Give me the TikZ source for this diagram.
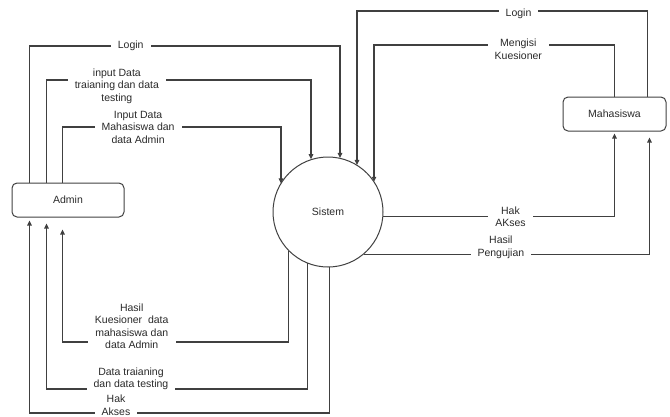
\documentclass[tikz,border=0pt]{standalone}
\usepackage{fontspec}
\setmainfont{Liberation Sans}
\usetikzlibrary{arrows.meta,positioning}
\definecolor{linegray}{HTML}{404040}
\definecolor{textgray}{HTML}{2A2A2A}

\begin{document}
\begin{tikzpicture}[x=1pt,y=-1pt,>={Triangle[length=5pt,width=4.5pt]},
  font=\fontsize{10.5}{12.5}\selectfont,
  box/.style={draw=linegray,line width=1pt,rounded corners=5pt,minimum width=112pt,minimum height=34pt,inner sep=0pt,text=textgray},
  proc/.style={draw=linegray,line width=1pt,circle,minimum size=110pt,inner sep=0pt,text=textgray},
  arrow/.style={->,draw=linegray,line width=1.1pt},
  lbl/.style={fill=white,align=center,inner xsep=7pt,inner ysep=0.5pt,text=textgray}]
  \useasboundingbox (0,0) rectangle (670,416);
  \node[proc] (sistem) at (328,212) {Sistem};
  \node[box,left=148pt of sistem,yshift=12pt] (admin) {Admin};
  \node[box,minimum width=103pt,right=179pt of sistem,yshift=98pt] (mhs) {Mahasiswa};
  % Admin -> Sistem
  \draw[arrow] ([xshift=18pt]admin.north west) |- node[lbl,pos=0.663]{Login} (340,46) -- (340,46 |- sistem.77);
  \draw[arrow] ([xshift=35pt]admin.north west) |- node[lbl,pos=0.633,yshift=-6pt]{input Data\\traianing dan data\\testing} (311,80) -- (311,80 |- sistem.108);
  \draw[arrow] ([xshift=51pt]admin.north west) |- node[lbl,pos=0.673]{Input Data\\Mahasiswa dan\\data Admin} (281,127) -- (281,127 |- sistem.149);
  % Sistem -> Admin
  \draw[arrow] (sistem.225) -- (sistem.225 |- 0,342) -| node[lbl,pos=0.347,yshift=16pt]{Hasil\\Kuesioner~ data\\mahasiswa dan\\data Admin} ([xshift=51pt,yshift=-12pt]admin.south west);
  \draw[arrow] (sistem.248) -- (sistem.248 |- 0,389) -| node[lbl,pos=0.338,yshift=10pt]{Data traianing\\dan data testing} ([xshift=35pt,yshift=-6pt]admin.south west);
  \draw[arrow] (sistem.272) -- (sistem.272 |- 0,413) -| node[lbl,pos=0.356,yshift=8pt]{Hak\\Akses} ([xshift=18pt,yshift=-3pt]admin.south west);
  % Mahasiswa -> Sistem
  \draw[arrow] ([xshift=85pt]mhs.north west) |- node[lbl,pos=0.722,yshift=-3pt]{Login} (357,11) -- (357,11 |- sistem.58);
  \draw[arrow] ([xshift=52pt]mhs.north west) |- node[lbl,pos=0.7,yshift=-4pt]{Mengisi\\Kuesioner} (374,45) -- (374,45 |- sistem.33);
  % Sistem -> Mahasiswa
  \draw[arrow] (sistem.-5) -| node[lbl,pos=0.275]{Hak\\AKses} ([xshift=52pt,yshift=-2pt]mhs.south west);
  \draw[arrow] (sistem.-50) -| node[lbl,pos=0.24,yshift=7pt]{Hasil\\Pengujian} ([xshift=87pt,yshift=-6pt]mhs.south west);
\end{tikzpicture}
\end{document}
